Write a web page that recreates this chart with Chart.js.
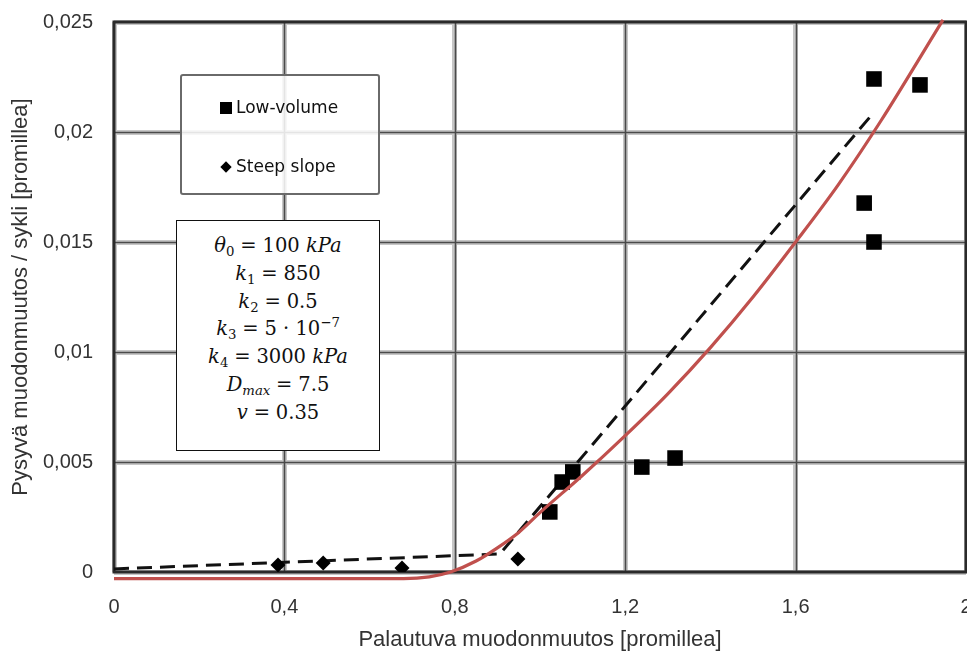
<!DOCTYPE html>
<html><head><meta charset="utf-8">
<script src="https://cdn.jsdelivr.net/npm/chart.js@4/dist/chart.umd.min.js"></script>
<style>
html,body{margin:0;padding:0;background:#fff;}
#wrap{position:relative;width:967px;height:655px;overflow:hidden;}
#legendBox{position:absolute;left:180px;top:74px;width:196px;height:117px;border:2px solid #6a6a6a;border-radius:3px;background:rgba(255,255,255,0.85);font-family:"DejaVu Sans";font-size:17px;color:#111;}
.item{position:absolute;left:38px;height:20px;line-height:20px;white-space:nowrap;}
.sq{display:inline-block;width:12px;height:12px;background:#000;margin-right:4px;vertical-align:-1px;}
.dm{display:inline-block;width:8px;height:8px;background:#000;transform:rotate(45deg);margin:0 6px 0 2px;vertical-align:1px;}
#params{position:absolute;left:176px;top:220px;width:202px;height:218px;border:1px solid #111;background:#fff;font-family:"DejaVu Serif";font-size:19.5px;color:#111;text-align:center;padding-top:11px;box-sizing:content-box;}
#params div{line-height:27.8px;height:27.8px;white-space:nowrap;}
.s{font-size:0.68em;vertical-align:-0.3em;line-height:0;}
.p{font-size:0.68em;vertical-align:0.6em;line-height:0;}
.eq{margin:0 0.3em;}
</style>
</head><body>
<div id="wrap">
<canvas id="c" width="967" height="655"></canvas>
<div id="legendBox">
  <div class="item" style="top:21px"><span class="sq"></span>Low-volume</div>
  <div class="item" style="top:80px"><span class="dm"></span>Steep slope</div>
</div>
<div id="params">
  <div><i>θ</i><span class="s">0</span><span class="eq">=</span>100 <i>kPa</i></div>
  <div><i>k</i><span class="s">1</span><span class="eq">=</span>850</div>
  <div><i>k</i><span class="s">2</span><span class="eq">=</span>0.5</div>
  <div><i>k</i><span class="s">3</span><span class="eq">=</span>5 · 10<span class="p">−7</span></div>
  <div><i>k</i><span class="s">4</span><span class="eq">=</span>3000 <i>kPa</i></div>
  <div><i>D</i><span class="s"><i>max</i></span><span class="eq">=</span>7.5</div>
  <div><i>v</i><span class="eq">=</span>0.35</div>
</div>
</div>
<script>
// ---- data ----
const lowVolumeX = [1.023, 1.052, 1.077, 1.239, 1.317, 1.761, 1.784, 1.784, 1.892];
const lowVolumeY = [0.00273, 0.00409, 0.00455, 0.00477, 0.00518, 0.01677, 0.0150, 0.02241, 0.02214];
const steepSlopeX = [0.385, 0.491, 0.676, 0.948];
const steepSlopeY = [0.00032, 0.00041, 0.00018, 0.00059];
const dashedX = [0, 0.906, 1.784];
const dashedY = [0.00014, 0.00082, 0.0209];
const modelX = [0, 0.68, 0.74, 0.79, 0.85, 0.9, 0.95, 1.0, 1.1, 1.2, 1.3, 1.4, 1.5, 1.6, 1.7, 1.8, 1.946];
const modelY = [-0.0003, -0.0003, -0.00022, 0.0, 0.0005, 0.0011, 0.0018, 0.0027, 0.0044, 0.0062, 0.0081, 0.0102, 0.0125, 0.0150, 0.0176, 0.0205, 0.0251];
const xTickValues = [0, 0.4, 0.8, 1.2, 1.6, 2];
const xTickLabels = ['0', '0,4', '0,8', '1,2', '1,6', '2'];
const yTickValues = [0, 0.005, 0.01, 0.015, 0.02, 0.025];
const yTickLabels = ['0', '0,005', '0,01', '0,015', '0,02', '0,025'];
const xTitle = 'Palautuva muodonmuutos [promillea]';
const yTitle = 'Pysyvä muodonmuutos / sykli [promillea]';

const pts = (xs, ys) => xs.map((x, i) => ({x, y: ys[i]}));

const gridCore = {
  id: 'gridCore',
  beforeDatasetsDraw(chart) {
    const {ctx, chartArea: a, scales: {x, y}} = chart;
    ctx.save();
    ctx.strokeStyle = '#4a4a4a';
    ctx.lineWidth = 1.6;
    ctx.beginPath();
    xTickValues.slice(1, -1).forEach(v => {
      const px = Math.round(x.getPixelForValue(v)) + 0.5;
      ctx.moveTo(px, a.top); ctx.lineTo(px, a.bottom);
    });
    yTickValues.slice(1, -1).forEach(v => {
      const py = Math.round(y.getPixelForValue(v)) + 0.5;
      ctx.moveTo(a.left, py); ctx.lineTo(a.right, py);
    });
    ctx.stroke();
    ctx.strokeStyle = '#2a2a2a';
    ctx.lineWidth = 3;
    ctx.strokeRect(a.left, a.top, a.right - a.left, a.bottom - a.top);
    ctx.restore();
  }
};

new Chart(document.getElementById('c'), {
  type: 'scatter',
  data: {
    datasets: [
      {
        label: 'Model', data: pts(modelX, modelY), showLine: true,
        borderColor: '#c0504d', borderWidth: 3.2, pointRadius: 0,
        cubicInterpolationMode: 'monotone', clip: false
      },
      {
        label: 'Low-volume', data: pts(lowVolumeX, lowVolumeY),
        pointStyle: 'rect', pointRadius: 11, backgroundColor: '#000', borderColor: '#000', borderWidth: 0
      },
      {
        label: 'Steep slope', data: pts(steepSlopeX, steepSlopeY),
        pointStyle: 'rectRot', pointRadius: 7.5, backgroundColor: '#000', borderColor: '#000', borderWidth: 0
      },
      {
        label: 'Trend', data: pts(dashedX, dashedY), showLine: true,
        borderColor: '#111', borderWidth: 3, borderDash: [15, 8], pointRadius: 0, tension: 0
      }
    ]
  },
  options: {
    responsive: false,
    animation: false,
    layout: {autoPadding: false, padding: {top: 22, right: 1, left: 0, bottom: 0}},
    plugins: {legend: {display: false}, tooltip: {enabled: false}},
    scales: {
      x: {
        type: 'linear', min: 0, max: 2,
        afterBuildTicks: s => { s.ticks = xTickValues.map(v => ({value: v})); },
        afterFit: s => { s.height = 83; s.paddingLeft = 0; s.paddingRight = 0; },
        grid: {color: '#c6c6c6', lineWidth: 5, drawTicks: false},
        border: {display: false},
        ticks: {
          padding: 23, color: '#333', font: {family: 'Liberation Sans', size: 20},
          maxRotation: 0, autoSkip: false,
          callback: (v, i) => xTickLabels[i]
        },
        title: {display: true, text: xTitle, color: '#333', font: {family: 'Liberation Sans', size: 22}, padding: {top: 0, bottom: 2}}
      },
      y: {
        type: 'linear', min: 0, max: 0.025,
        afterBuildTicks: s => { s.ticks = yTickValues.map(v => ({value: v})); },
        afterFit: s => { s.width = 114; s.paddingTop = 0; s.paddingBottom = 0; },
        grid: {color: '#c6c6c6', lineWidth: 5, drawTicks: false},
        border: {display: false},
        ticks: {
          padding: 21, color: '#333', font: {family: 'Liberation Sans', size: 20},
          autoSkip: false,
          callback: (v, i) => yTickLabels[i]
        },
        title: {display: true, text: yTitle, color: '#333', font: {family: 'Liberation Sans', size: 22}, padding: {top: 8, bottom: 0}}
      }
    }
  },
  plugins: [gridCore]
});
</script>
</body></html>
